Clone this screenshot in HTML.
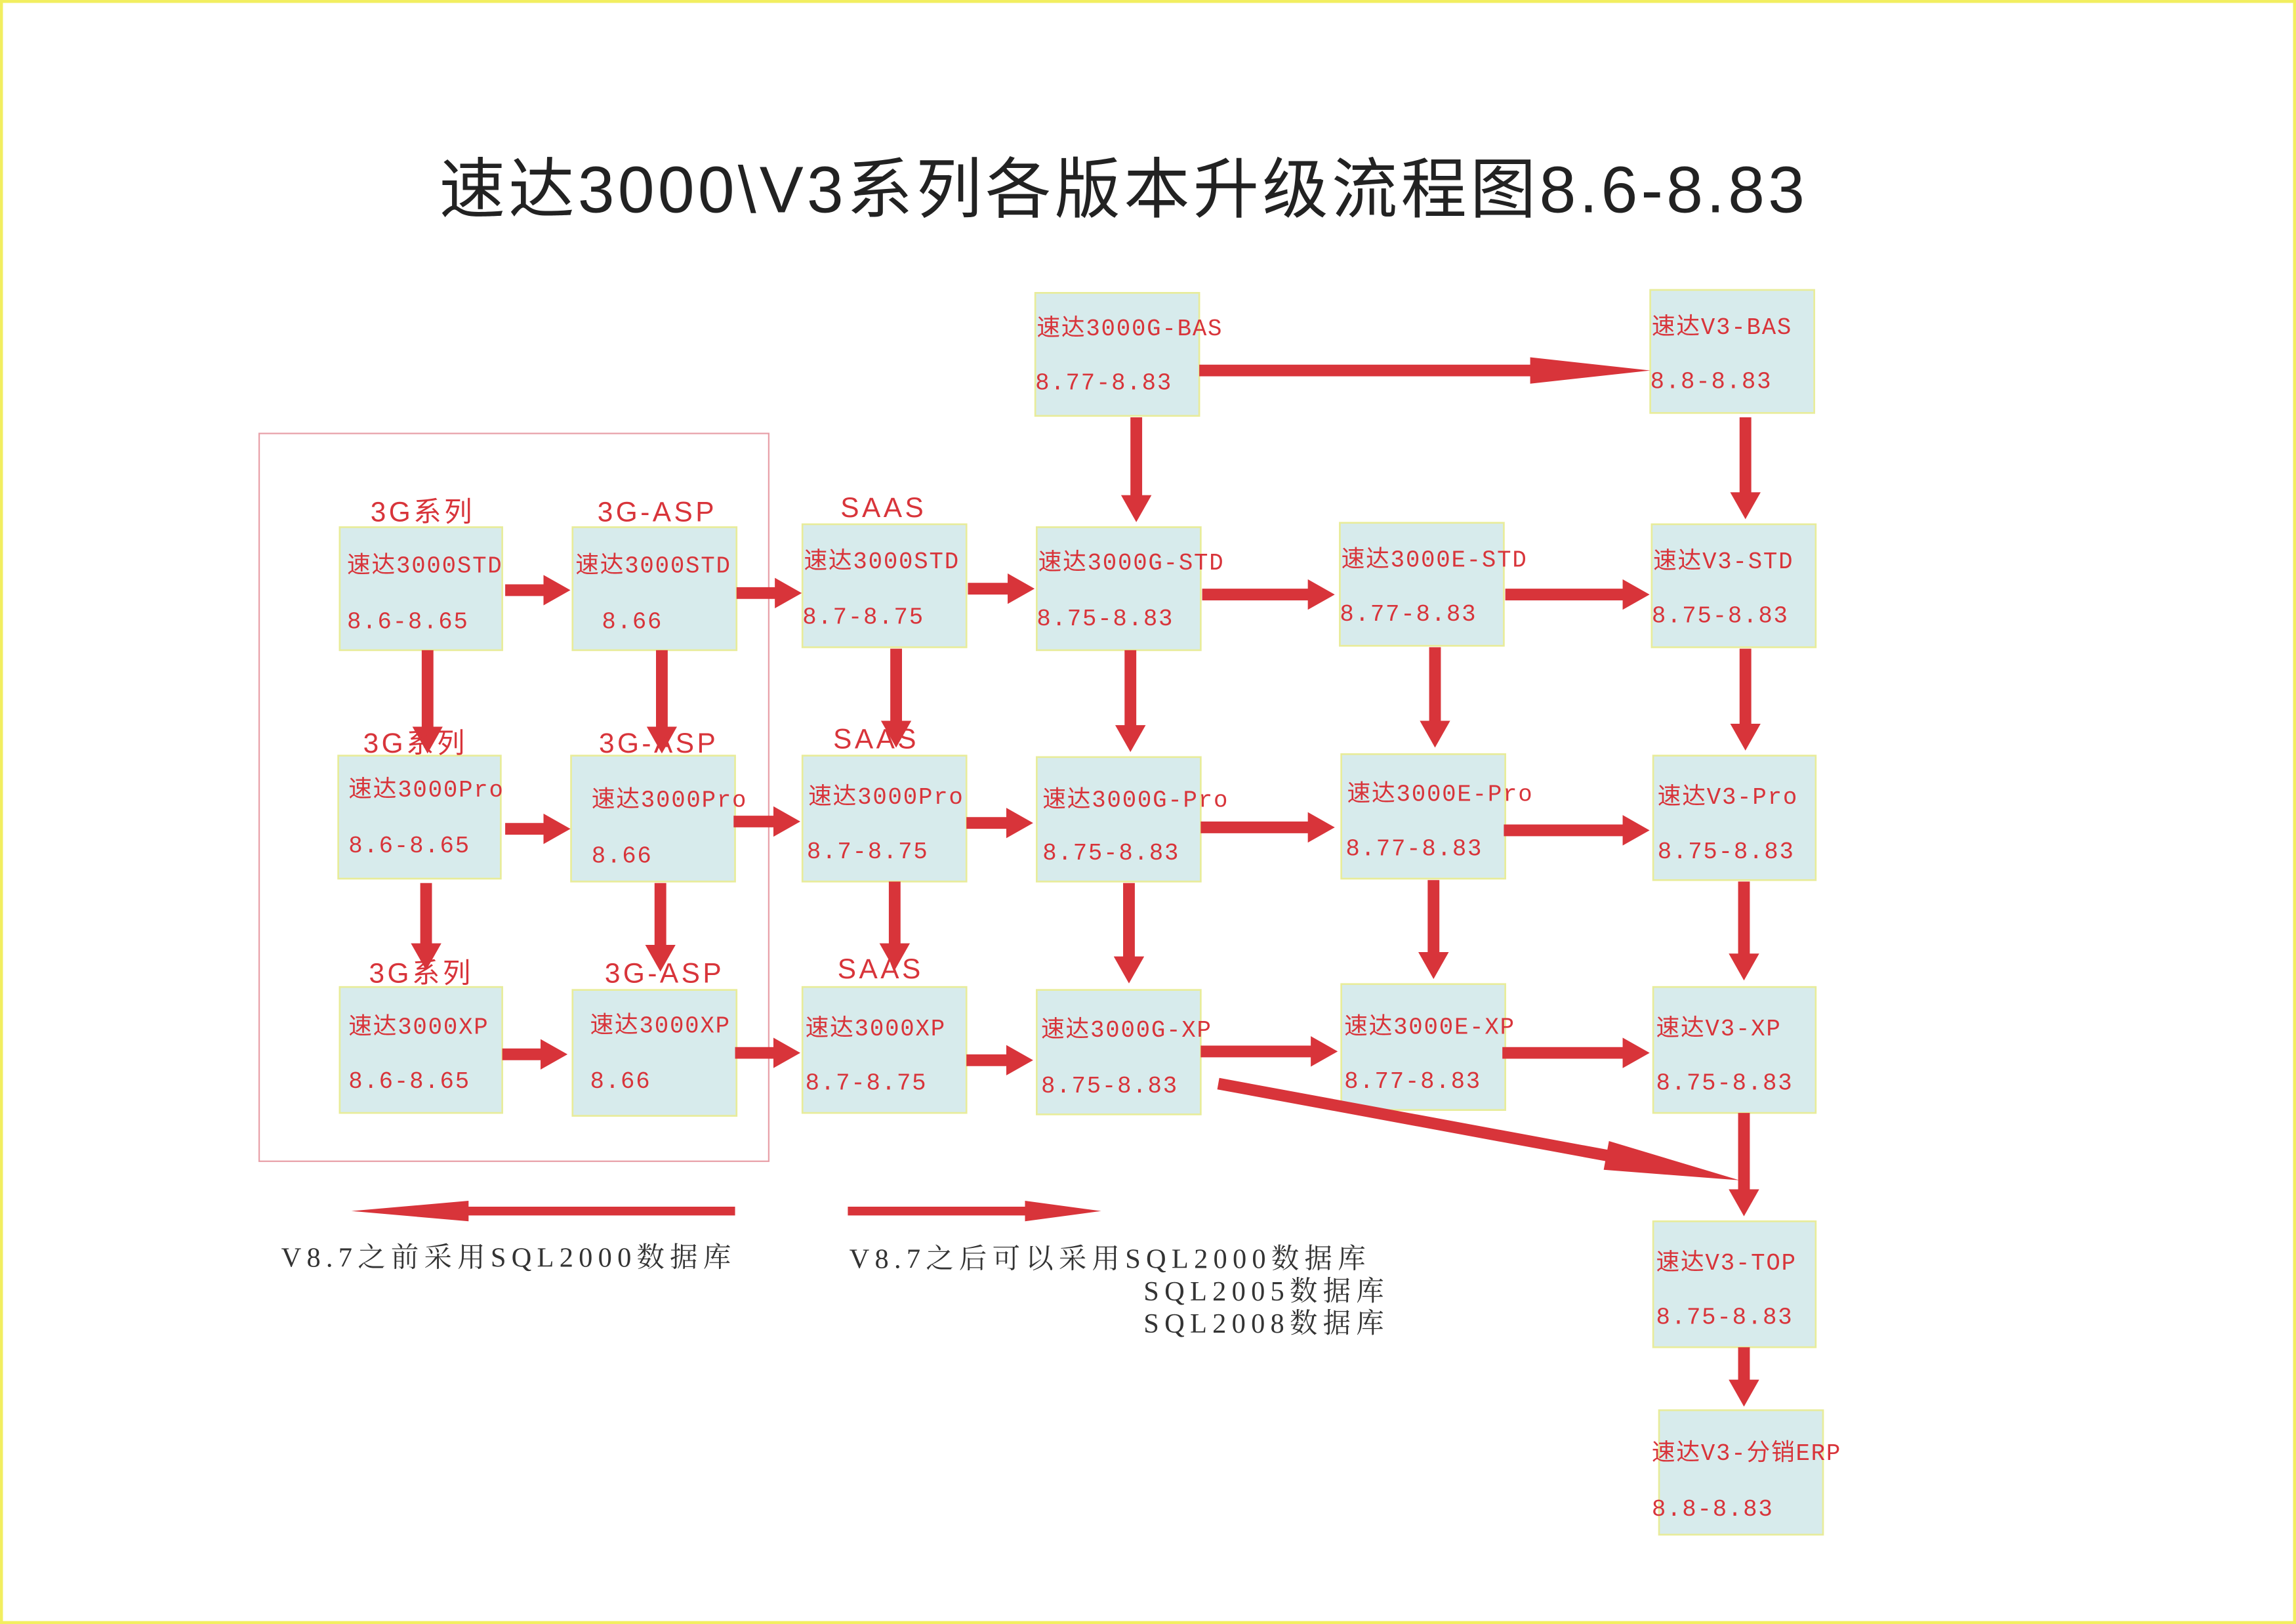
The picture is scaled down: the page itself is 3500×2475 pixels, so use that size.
<!DOCTYPE html>
<html><head><meta charset="utf-8"><style>
html,body{margin:0;padding:0;background:#fff;}
svg{display:block;}
.n{fill:#d7ebec;stroke:#e8ec9a;stroke-width:1.2;}
.t{font-family:"Liberation Mono","Noto Sans CJK SC",monospace;font-size:16px;fill:#d8343a;letter-spacing:0.8px;}
.l{font-family:"Liberation Sans","Noto Sans CJK SC",sans-serif;font-size:19px;fill:#d8343a;letter-spacing:2px;}
.s{font-family:"Liberation Serif","Noto Serif CJK SC",serif;font-size:19px;fill:#333;letter-spacing:3.7px;}
.a{stroke:#d8343a;stroke-width:8;marker-end:url(#h);}
</style></head><body>
<svg width="3500" height="2475" viewBox="0 0 1568 1109" preserveAspectRatio="none" xmlns="http://www.w3.org/2000/svg">
<defs><marker id="h" viewBox="0 0 10 10" refX="1" refY="5" markerWidth="2.3" markerHeight="2.6" orient="auto" markerUnits="strokeWidth" preserveAspectRatio="none"><path d="M0,0L10,5L0,10z" fill="#d8343a"/></marker></defs>
<rect x="1" y="1" width="1566" height="1107" fill="#fff" stroke="#f2ee60" stroke-width="2"/>
<text x="300" y="145" font-family="Liberation Sans,Noto Sans CJK SC,sans-serif" font-size="45" fill="#222" letter-spacing="2.3">速达3000\V3系列各版本升级流程图8.6-8.83</text>
<rect x="177" y="296" width="348" height="497" fill="none" stroke="#e8a0a8" stroke-width="1"/>

<rect class="n" x="707" y="200" width="112" height="84"/><text class="t" x="708" y="229">速达3000G-BAS</text><text class="t" x="707" y="266">8.77-8.83</text>
<rect class="n" x="1127" y="198" width="112" height="84"/><text class="t" x="1128" y="228">速达V3-BAS</text><text class="t" x="1127" y="265">8.8-8.83</text>

<text class="l" x="253" y="356">3G系列</text><text class="l" x="408" y="356">3G-ASP</text><text class="l" x="574" y="353">SAAS</text>
<rect class="n" x="232" y="360" width="111" height="84"/><text class="t" x="237" y="391">速达3000STD</text><text class="t" x="237" y="429">8.6-8.65</text>
<rect class="n" x="391" y="360" width="112" height="84"/><text class="t" x="393" y="391">速达3000STD</text><text class="t" x="411" y="429">8.66</text>
<rect class="n" x="548" y="358" width="112" height="84"/><text class="t" x="549" y="388">速达3000STD</text><text class="t" x="548" y="426">8.7-8.75</text>
<rect class="n" x="708" y="360" width="112" height="84"/><text class="t" x="709" y="389">速达3000G-STD</text><text class="t" x="708" y="427">8.75-8.83</text>
<rect class="n" x="915" y="357" width="112" height="84"/><text class="t" x="916" y="387">速达3000E-STD</text><text class="t" x="915" y="424">8.77-8.83</text>
<rect class="n" x="1128" y="358" width="112" height="84"/><text class="t" x="1129" y="388">速达V3-STD</text><text class="t" x="1128" y="425">8.75-8.83</text>

<rect class="n" x="231" y="516" width="111" height="84"/><text class="t" x="238" y="544">速达3000Pro</text><text class="t" x="238" y="582">8.6-8.65</text>
<rect class="n" x="390" y="516" width="112" height="86"/><text class="t" x="404" y="551">速达3000Pro</text><text class="t" x="404" y="589">8.66</text>
<rect class="n" x="548" y="516" width="112" height="86"/><text class="t" x="552" y="549">速达3000Pro</text><text class="t" x="551" y="586">8.7-8.75</text>
<rect class="n" x="708" y="517" width="112" height="85"/><text class="t" x="712" y="551">速达3000G-Pro</text><text class="t" x="712" y="587">8.75-8.83</text>
<rect class="n" x="916" y="515" width="112" height="85"/><text class="t" x="920" y="547">速达3000E-Pro</text><text class="t" x="919" y="584">8.77-8.83</text>
<rect class="n" x="1129" y="516" width="111" height="85"/><text class="t" x="1132" y="549">速达V3-Pro</text><text class="t" x="1132" y="586">8.75-8.83</text>

<rect class="n" x="232" y="674" width="111" height="86"/><text class="t" x="238" y="706">速达3000XP</text><text class="t" x="238" y="743">8.6-8.65</text>
<rect class="n" x="391" y="676" width="112" height="86"/><text class="t" x="403" y="705">速达3000XP</text><text class="t" x="403" y="743">8.66</text>
<rect class="n" x="548" y="674" width="112" height="86"/><text class="t" x="550" y="707">速达3000XP</text><text class="t" x="550" y="744">8.7-8.75</text>
<rect class="n" x="708" y="676" width="112" height="85"/><text class="t" x="711" y="708">速达3000G-XP</text><text class="t" x="711" y="746">8.75-8.83</text>
<rect class="n" x="916" y="672" width="112" height="86"/><text class="t" x="918" y="706">速达3000E-XP</text><text class="t" x="918" y="743">8.77-8.83</text>
<rect class="n" x="1129" y="674" width="111" height="86"/><text class="t" x="1131" y="707">速达V3-XP</text><text class="t" x="1131" y="744">8.75-8.83</text>

<rect class="n" x="1129" y="834" width="111" height="86"/><text class="t" x="1131" y="867">速达V3-TOP</text><text class="t" x="1131" y="904">8.75-8.83</text>
<rect class="n" x="1133" y="963" width="112" height="85"/><text class="t" x="1128" y="997">速达V3-分销ERP</text><text class="t" x="1128" y="1035">8.8-8.83</text>

<line class="a" x1="345" y1="403" x2="373" y2="403"/><line class="a" x1="503" y1="405" x2="531" y2="405"/>
<line class="a" x1="661" y1="402" x2="690" y2="402"/><line class="a" x1="821" y1="406" x2="895" y2="406"/>
<line class="a" x1="1028" y1="406" x2="1110" y2="406"/>
<line class="a" x1="345" y1="566" x2="373" y2="566"/><line class="a" x1="501" y1="561" x2="530" y2="561"/>
<line class="a" x1="660" y1="562" x2="689" y2="562"/><line class="a" x1="820" y1="565" x2="895" y2="565"/>
<line class="a" x1="1027" y1="567" x2="1110" y2="567"/>
<line class="a" x1="343" y1="720" x2="371" y2="720"/><line class="a" x1="502" y1="719" x2="530" y2="719"/>
<line class="a" x1="660" y1="724" x2="689" y2="724"/><line class="a" x1="820" y1="718" x2="897" y2="718"/>
<line class="a" x1="1026" y1="719" x2="1110" y2="719"/>
<line class="a" x1="292" y1="444" x2="292" y2="498"/><line class="a" x1="291" y1="603" x2="291" y2="646"/>
<line class="a" x1="452" y1="444" x2="452" y2="498"/><line class="a" x1="451" y1="603" x2="451" y2="647"/>
<line class="a" x1="612" y1="443" x2="612" y2="494"/><line class="a" x1="611" y1="602" x2="611" y2="646"/>
<line class="a" x1="776" y1="285" x2="776" y2="340"/>
<line class="a" x1="772" y1="444" x2="772" y2="497"/><line class="a" x1="771" y1="603" x2="771" y2="655"/>
<line class="a" x1="980" y1="442" x2="980" y2="494"/><line class="a" x1="979" y1="601" x2="979" y2="652"/>
<line class="a" x1="1192" y1="285" x2="1192" y2="338"/><line class="a" x1="1192" y1="443" x2="1192" y2="496"/>
<line class="a" x1="1191" y1="602" x2="1191" y2="653"/><line class="a" x1="1191" y1="760" x2="1191" y2="814"/>
<line class="a" x1="1191" y1="920" x2="1191" y2="944"/>

<text class="l" x="248" y="514">3G系列</text><text class="l" x="409" y="514">3G-ASP</text><text class="l" x="569" y="511">SAAS</text>
<text class="l" x="252" y="671">3G系列</text><text class="l" x="413" y="671">3G-ASP</text><text class="l" x="572" y="668">SAAS</text>

<polygon fill="#d8343a" points="819,249 1045,249 1045,244 1127,253 1045,262 1045,257 819,257"/>
<polygon fill="#d8343a" points="502,824 320,824 320,820 240,827 320,834 320,830 502,830"/>
<polygon fill="#d8343a" points="579,824 700,824 700,820 752,827 700,834 700,830 579,830"/>
<polygon fill="#d8343a" points="832.7,736.1 1097.7,785.1 1098.8,779.2 1188,806 1095.2,798.8 1096.3,792.9 831.3,743.9"/>

<text class="s" x="192" y="865">V8.7之前采用SQL2000数据库</text>
<text class="s" x="580" y="866">V8.7之后可以采用SQL2000数据库</text>
<text class="s" x="781" y="888">SQL2005数据库</text>
<text class="s" x="781" y="910">SQL2008数据库</text>
</svg>
</body></html>
